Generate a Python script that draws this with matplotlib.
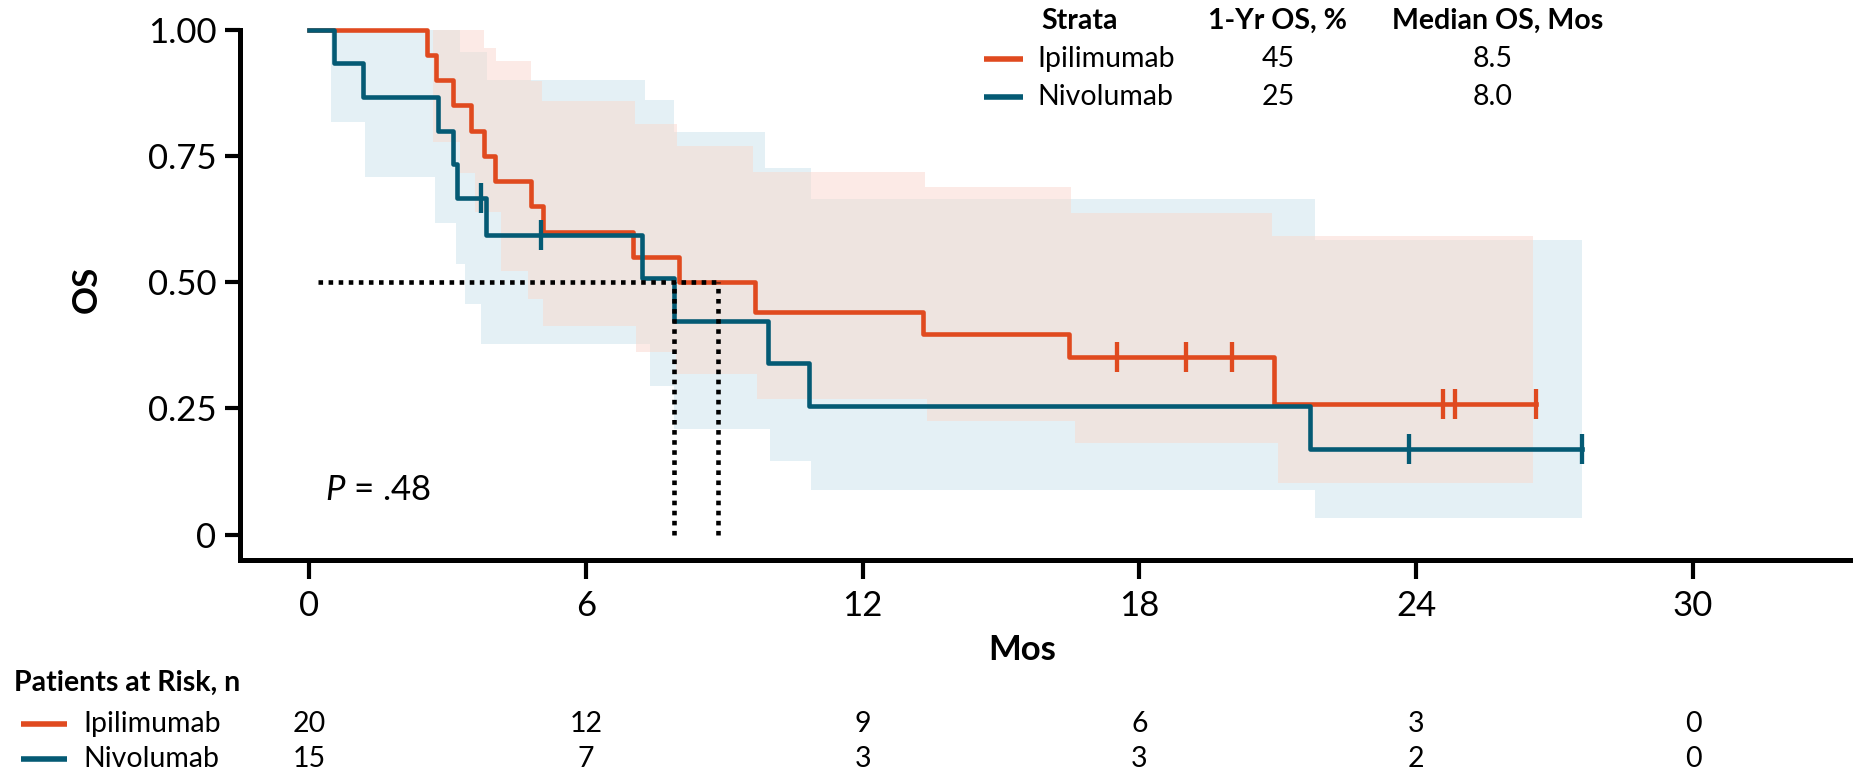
import numpy as np
import matplotlib.pyplot as plt
import matplotlib.transforms as mtransforms
from matplotlib.lines import Line2D

plt.rcParams['font.family'] = ['Lato', 'DejaVu Sans']
plt.rcParams['mathtext.fontset'] = 'custom'
plt.rcParams['mathtext.it'] = 'Lato:italic'
plt.rcParams['mathtext.rm'] = 'Lato'

cor_ipi = '#E04A1F'
cor_nivo = '#045A74'
cor_ic_ipi = '#FCEAE6'
cor_ic_nivo = '#E4F0F5'
cor_ic_ambos = '#EEE4E0'

grupos = ['Ipilimumab', 'Nivolumab']
os_1ano = ['45', '25']
mediana_os = ['8.5', '8.0']

# Curvas KM
t_ipi = [0, 2.56, 2.74, 3.13, 3.51, 3.79, 4.02, 4.80, 5.07, 7.02, 8.01, 9.67, 13.31, 16.47, 20.92, 26.6]
s_ipi = [1.0, 0.95, 0.90, 0.85, 0.80, 0.75, 0.70, 0.65, 0.60, 0.55, 0.50, 0.44, 0.397, 0.352, 0.258, 0.258]
cens_ipi = [17.52, 19.0, 20.01, 24.58, 24.83, 26.6]

t_nivo = [0, 0.55, 1.17, 2.79, 3.13, 3.20, 3.84, 7.21, 7.90, 9.95, 10.84, 21.70, 27.6]
s_nivo = [1.0, 0.933, 0.867, 0.80, 0.733, 0.667, 0.593, 0.508, 0.423, 0.339, 0.254, 0.169, 0.169]
cens_nivo = [3.73, 5.03, 23.85, 27.6]

# Intervalos de confianca (degraus)
t_sup_ipi = [2.68, 3.79, 4.06, 4.80, 5.04, 7.07, 7.97, 9.62, 13.34, 16.51, 20.88, 26.53]
v_sup_ipi = [1.0, 0.964, 0.937, 0.898, 0.859, 0.814, 0.770, 0.719, 0.688, 0.636, 0.591, 0.591]
t_inf_ipi = [2.68, 3.28, 3.59, 4.15, 4.74, 5.08, 7.09, 7.95, 9.70, 13.40, 16.60, 21.00, 26.53]
v_inf_ipi = [0.778, 0.716, 0.639, 0.523, 0.466, 0.413, 0.362, 0.318, 0.268, 0.225, 0.181, 0.102, 0.102]

t_sup_nivo = [0.47, 3.28, 3.85, 7.28, 7.90, 9.88, 10.87, 21.81, 27.6]
v_sup_nivo = [1.0, 0.956, 0.90, 0.861, 0.797, 0.725, 0.664, 0.584, 0.584]
t_inf_nivo = [0.47, 1.21, 2.72, 3.19, 3.37, 3.72, 7.40, 7.90, 9.99, 10.88, 21.80, 27.6]
v_inf_nivo = [0.817, 0.708, 0.617, 0.535, 0.456, 0.377, 0.295, 0.21, 0.145, 0.088, 0.034, 0.034]

# Medianas
mediana_x = [7.90, 8.87]
mediana_inicio = 0.2

# Pacientes em risco
risco_t = [0, 6, 12, 18, 24, 30]
risco_ipi = [20, 12, 9, 6, 3, 0]
risco_nivo = [15, 7, 3, 3, 2, 0]


def degrau(t, v, x):
    t = np.asarray(t)
    v = np.asarray(v)
    idx = np.searchsorted(t, x, side='right') - 1
    return v[np.clip(idx, 0, len(v) - 1)]


def banda(ax, ts, ti, vs, vi, cor):
    grade = np.unique(np.concatenate([ts, ti]))
    sup = degrau(ts, vs, grade)
    inf = degrau(ti, vi, grade)
    ax.fill_between(grade, inf, sup, step='post', color=cor, lw=0, zorder=1)


fig = plt.figure(figsize=(18.54, 7.78), dpi=100)
ax = fig.add_axes([0.1294, 0.2802, 0.8684, 0.6948])

banda(ax, t_sup_ipi, t_inf_ipi, v_sup_ipi, v_inf_ipi, cor_ic_ipi)
banda(ax, t_sup_nivo, t_inf_nivo, v_sup_nivo, v_inf_nivo, cor_ic_nivo)

# regiao de sobreposicao dos dois ICs
ini = max(t_sup_ipi[0], t_sup_nivo[0])
fim = min(t_sup_ipi[-1], t_sup_nivo[-1])
grade = np.unique(np.concatenate([t_sup_ipi, t_inf_ipi, t_sup_nivo, t_inf_nivo]))
grade = grade[(grade >= ini) & (grade <= fim)]
sup = np.minimum(degrau(t_sup_ipi, v_sup_ipi, grade), degrau(t_sup_nivo, v_sup_nivo, grade))
inf = np.maximum(degrau(t_inf_ipi, v_inf_ipi, grade), degrau(t_inf_nivo, v_inf_nivo, grade))
sup = np.maximum(sup, inf)
ax.fill_between(grade, inf, sup, step='post', color=cor_ic_ambos, lw=0, zorder=1)

# curvas
ax.step(t_ipi, s_ipi, where='post', color=cor_ipi, lw=3.3, zorder=3, clip_on=False)
ax.step(t_nivo, s_nivo, where='post', color=cor_nivo, lw=3.3, zorder=3, clip_on=False)
ax.plot(cens_ipi, degrau(t_ipi, s_ipi, cens_ipi), ls='none', marker='|', ms=22, mew=3.1,
        color=cor_ipi, zorder=3)
ax.plot(cens_nivo, degrau(t_nivo, s_nivo, cens_nivo), ls='none', marker='|', ms=22, mew=3.1,
        color=cor_nivo, zorder=3)

# linhas da mediana
ax.plot([mediana_inicio, mediana_x[1]], [0.5, 0.5], color='black', lw=3.3,
        ls=(0, (1, 1.2)), zorder=4)
for mx in mediana_x:
    ax.plot([mx, mx], [0, 0.5], color='black', lw=3.3, ls=(0, (1, 1.2)), zorder=4)

ax.text(0.35, 0.088, r'$\mathit{P}$ = .48', fontsize=25, ha='left', va='center')

ax.set_xlim(-1.5, 33.4)
ax.set_ylim(-0.05, 1.02)
ax.set_xticks(risco_t)
ax.set_yticks([0, 0.25, 0.5, 0.75, 1.0])
ax.set_yticklabels(['0', '0.25', '0.50', '0.75', '1.00'])
ax.spines['top'].set_visible(False)
ax.spines['right'].set_visible(False)
ax.spines['left'].set_bounds(-0.05, 1.0)
ax.spines['left'].set_linewidth(3.6)
ax.spines['bottom'].set_linewidth(3.6)
ax.tick_params(axis='x', length=13.5, width=3, labelsize=25, pad=8)
ax.tick_params(axis='y', length=11, width=3, labelsize=25, pad=6)
ax.set_xlabel('Mos', fontsize=25, fontweight='bold')
ax.xaxis.set_label_coords(0.486, -0.137)
ax.set_ylabel('OS', fontsize=25, fontweight='bold')
ax.yaxis.set_label_coords(-0.085, 0.5)

# legenda em tabela
fs = 20.5
fig.text(1041 / 1854, 1 - 21 / 778, 'Strata', fontsize=fs, fontweight='bold', ha='left', va='center')
fig.text(1278 / 1854, 1 - 21 / 778, '1-Yr OS, %', fontsize=fs, fontweight='bold', ha='center', va='center')
fig.text(1498 / 1854, 1 - 21 / 778, 'Median OS, Mos', fontsize=fs, fontweight='bold', ha='center', va='center')
cores = [cor_ipi, cor_nivo]
linhas_y = [1 - 59 / 778, 1 - 97 / 778]
for i in range(2):
    y = linhas_y[i]
    fig.add_artist(Line2D([984 / 1854, 1023 / 1854], [y, y], color=cores[i], lw=4,
                          solid_capstyle='butt', transform=fig.transFigure))
    fig.text(1037 / 1854, y, grupos[i], fontsize=fs, ha='left', va='center')
    fig.text(1278 / 1854, y, os_1ano[i], fontsize=fs, ha='center', va='center')
    fig.text(1493 / 1854, y, mediana_os[i], fontsize=fs, ha='center', va='center')

# tabela de pacientes em risco
fig.text(14 / 1854, 1 - 683 / 778, 'Patients at Risk, n', fontsize=fs, fontweight='bold',
         ha='left', va='center')
trans = mtransforms.blended_transform_factory(ax.transData, fig.transFigure)
riscos = [risco_ipi, risco_nivo]
risco_y = [1 - 724 / 778, 1 - 759 / 778]
for i in range(2):
    y = risco_y[i]
    fig.add_artist(Line2D([21 / 1854, 67 / 1854], [y, y], color=cores[i], lw=4,
                          solid_capstyle='butt', transform=fig.transFigure))
    fig.text(83 / 1854, y, grupos[i], fontsize=fs, ha='left', va='center')
    for t, n in zip(risco_t, riscos[i]):
        fig.text(t, y, str(n), fontsize=fs, ha='center', va='center', transform=trans)

fig.savefig('out.png', dpi=100)
